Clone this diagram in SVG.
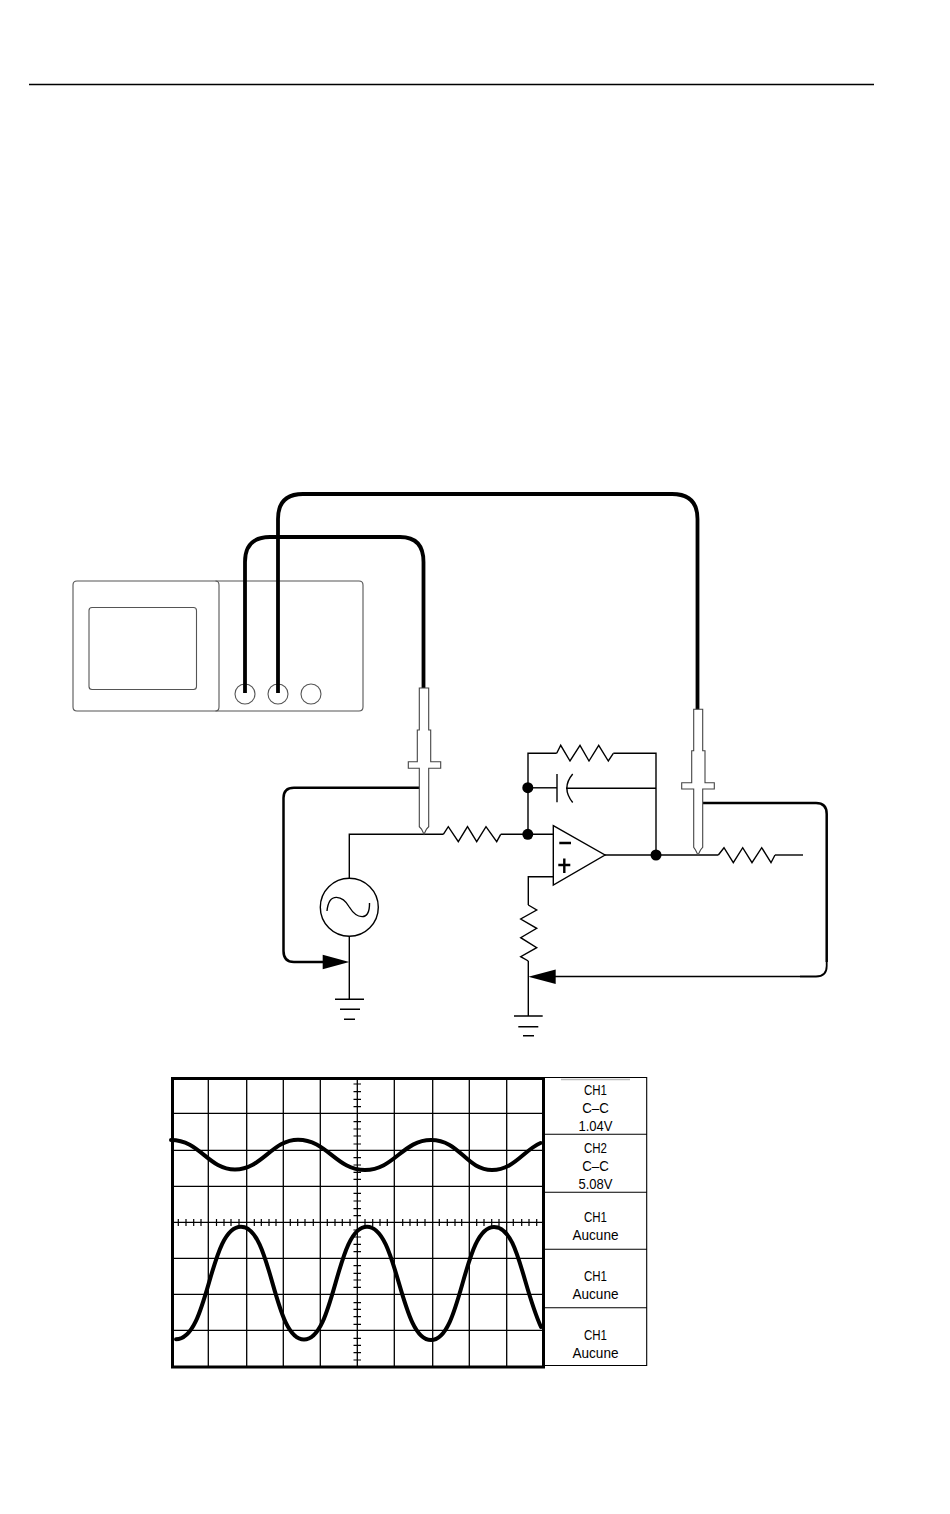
<svg xmlns="http://www.w3.org/2000/svg" width="950" height="1514" viewBox="0 0 950 1514">
<style>
.w{fill:none;stroke:#000;stroke-width:1.4}
.cable{fill:none;stroke:#000;stroke-width:3.8}
.lead{fill:none;stroke:#000;stroke-width:2.5}
.o{fill:none;stroke:#555;stroke-width:1.1}
.p{fill:#fff;stroke:#444;stroke-width:1.1}
.g{fill:none;stroke:#000;stroke-width:1.3}
.trace{fill:none;stroke:#000;stroke-width:4;stroke-linecap:round}
.f{fill:#000;stroke:none}
text{font-family:"Liberation Sans",Arial,sans-serif;font-size:14px;fill:#000;text-anchor:middle}
</style>
<rect width="950" height="1514" fill="#fff"/>
<g id="top-rule"><path class="g" d="M29 84.5H874"/></g>
<g id="oscilloscope">
<path class="o" d="M77 581H359Q363 581 363 585V707Q363 711 359 711H77Q73 711 73 707V585Q73 581 77 581Z"/>
<path class="o" d="M215.500 581Q219 581 219 585V707Q219 711 215.500 711"/>
<rect class="o" x="89" y="607.500" width="107.500" height="82" rx="3"/>
<circle class="o" cx="245" cy="694" r="10"/>
<circle class="o" cx="278" cy="694" r="10"/>
<circle class="o" cx="311" cy="694" r="10"/>
</g>
<g id="connectors">
<path class="cable" d="M245 693V562Q245 537 270 537H400Q423.500 537 423.500 562V689"/>
<path class="cable" d="M278 693V519Q278 494 303 494H672Q697.500 494 697.500 519V710"/>
<path class="lead" d="M420 787.700H294Q283.500 787.700 283.500 798V951Q283.500 962 294 962H324"/>
<path class="lead" d="M703 803H816Q826.700 803 826.700 814V962"/>
<path fill="none" stroke="#000" stroke-width="1.800" d="M826.700 962V966Q826.700 976.500 816 976.500H800"/>
<path class="w" d="M800 976.500H555"/>
<path class="w" d="M349.300 878V834.300H443.300"/>
<path class="w" d="M500.700 834.300H553.300"/>
<path class="w" d="M528 834.300V753.300H556.700"/>
<path class="w" d="M528 787.800H557"/>
<path class="w" d="M566 788.300H656"/>
<path class="w" d="M613.300 753.300H656V855"/>
<path class="w" d="M605 855H718.300"/>
<path class="w" d="M775 855H803"/>
<path class="w" d="M553.300 876.700H528.300V905"/>
<path class="w" d="M528.300 961V1016"/>
<path class="w" d="M349.300 936V999.300"/>
</g>
<g id="probe-1"><path class="p" d="M419.300 688H428.700V730H430.700V761.700H440.700V768.300H428.700V826.700L426.500 829L424 834.300L421.500 829L419.300 826.700V768.300H408.300V761.700H417.300V730H419.300Z"/></g>
<g id="probe-2"><path class="p" d="M693.700 709.300H702.700V750.700H705V782.700H714.300V789H702.700V847.300L700.500 850L698 855L695.500 850L693.700 847.300V789H681.700V782.700H691.700V750.700H693.700Z"/></g>
<g id="source">
<circle class="w" cx="349.300" cy="907.300" r="29"/>
<path class="w" d="M327 911C329 891 343 896 349.300 907C356 918 370 923 369.500 903"/>
</g>
<g id="arrow-1"><polygon class="f" points="349.300,962 322.700,954.800 322.700,969.200"/></g>
<g id="arrow-2"><polygon class="f" points="528.300,976.700 555.700,969.400 555.700,984"/></g>
<g id="resistor-input"><path class="w" d="M443.300 834.300L448.300 826.700L458.300 841.700L467.500 826.700L476.700 841.700L486 826.700L496.700 841.700L500.700 834.300"/></g>
<g id="resistor-feedback"><path class="w" d="M556.700 753.300L560.700 745.300L570 761L580 745.300L589 761L598.700 745.300L608.300 761L613.300 753.300"/></g>
<g id="resistor-output"><path class="w" d="M718.300 855L724 847.700L733.300 862.700L742.700 847.700L752 862.700L761.700 847.700L771 862.700L775 855"/></g>
<g id="resistor-ground"><path class="w" d="M528.300 905L536.700 910L520.700 919L536.700 928.300L520.700 937.700L536.700 947.700L520.700 956.700L528.300 961"/></g>
<g id="capacitor">
<path class="w" d="M557 774V802.300"/>
<path class="w" d="M572.700 774Q561 788 572.700 802.500"/>
</g>
<g id="opamp">
<polygon class="w" points="553.300,825.700 605,855 553.300,885"/>
<path fill="none" stroke="#000" stroke-width="2.400" d="M559.300 843H571M558.300 865H570.300M564.300 858.500V873"/>
</g>
<g id="junctions">
<circle class="f" cx="527.800" cy="787.700" r="5.500"/>
<circle class="f" cx="527.800" cy="834.300" r="5.500"/>
<circle class="f" cx="656" cy="855" r="5.500"/>
</g>
<g id="ground-1"><path class="w" d="M335 999.300H364M340 1009.300H360M344 1019.300H355"/></g>
<g id="ground-2"><path class="w" d="M514 1016H542.700M518.300 1026.700H538.300M523 1035.700H534"/></g>
<g id="screen">
<path class="g" d="M208.300 1078V1367M246.700 1078V1367M283.300 1078V1367M320.300 1078V1367M357.300 1078V1367M394.300 1078V1367M432.700 1078V1367M469.300 1078V1367M506.700 1078V1367"/>
<path class="g" d="M172 1113.300H543M172 1150.300H543M172 1186.300H543M172 1222.300H543M172 1258.300H543M172 1294.300H543M172 1330.300H543"/>
<path fill="none" stroke="#000" stroke-width="1.200" d="M178.300 1219V1226M186 1219V1226M193.700 1219V1226M201 1219V1226M216.500 1219V1226M224 1219V1226M231 1219V1226M239 1219V1226M254.300 1219V1226M261.300 1219V1226M269 1219V1226M276 1219V1226M290.300 1219V1226M297.700 1219V1226M305 1219V1226M313.300 1219V1226M327.300 1219V1226M335 1219V1226M342.300 1219V1226M350 1219V1226M365 1219V1226M372.700 1219V1226M380 1219V1226M387.300 1219V1226M402.700 1219V1226M410 1219V1226M417.300 1219V1226M425 1219V1226M439.300 1219V1226M447.300 1219V1226M455 1219V1226M461.700 1219V1226M476.700 1219V1226M484 1219V1226M491.700 1219V1226M499 1219V1226M513.300 1219V1226M521.700 1219V1226M529 1219V1226M536.700 1219V1226"/>
<path fill="none" stroke="#000" stroke-width="1.200" d="M353.500 1084H361M353.500 1091.700H361M353.500 1099.300H361M353.500 1106.700H361M353.500 1121.700H361M353.500 1129H361M353.500 1136H361M353.500 1144H361M353.500 1157.700H361M353.500 1165H361M353.500 1172.300H361M353.500 1179.300H361M353.500 1193.300H361M353.500 1201H361M353.500 1208.700H361M353.500 1215.700H361M353.500 1230H361M353.500 1237H361M353.500 1244.300H361M353.500 1251.700H361M353.500 1265.700H361M353.500 1273.300H361M353.500 1280H361M353.500 1287.300H361M353.500 1302.700H361M353.500 1309.300H361M353.500 1316.700H361M353.500 1324.300H361M353.500 1338.300H361M353.500 1345.300H361M353.500 1352.700H361M353.500 1360H361"/>
<path class="trace" d="M171 1140C200 1140 208 1169.500 235 1169.500C262 1169.500 272 1139.700 298 1139.700C327 1139.700 336 1170 365 1170C394 1170 403 1140 431 1140C460 1140 466 1170 492 1170C514 1170 524 1150 540.500 1143"/>
<path class="trace" d="M176 1339.300C209 1339.300 209 1226.700 241 1226.700C272 1226.700 273 1339.500 304 1339.500C335 1339.500 336 1226.700 367 1226.700C398 1226.700 400 1340 431 1340C462 1340 463 1227 494 1227C518 1227 522 1285 541 1327"/>
<rect x="172.500" y="1078.500" width="371" height="288.500" fill="none" stroke="#000" stroke-width="3"/>
</g>
<g id="readout">
<path fill="none" stroke="#000" stroke-width="1.100" d="M545 1077.500H646.700V1365.500H545M545 1134.300H646.700M545 1192.300H646.700M545 1249.300H646.700M545 1307.700H646.700"/>
<path fill="none" stroke="#bbb" stroke-width="1.500" d="M561 1079.500H630"/>
<text x="595.500" y="1095" textLength="23" lengthAdjust="spacingAndGlyphs">CH1</text>
<text x="595.500" y="1113.300" textLength="26.500" lengthAdjust="spacingAndGlyphs">C–C</text>
<text x="595.500" y="1130.700" textLength="34" lengthAdjust="spacingAndGlyphs">1.04V</text>
<text x="595.500" y="1152.700" textLength="23" lengthAdjust="spacingAndGlyphs">CH2</text>
<text x="595.500" y="1171" textLength="26.500" lengthAdjust="spacingAndGlyphs">C–C</text>
<text x="595.500" y="1189.300" textLength="34" lengthAdjust="spacingAndGlyphs">5.08V</text>
<text x="595.500" y="1222" textLength="23" lengthAdjust="spacingAndGlyphs">CH1</text>
<text x="595.500" y="1240" textLength="46" lengthAdjust="spacingAndGlyphs">Aucune</text>
<text x="595.500" y="1281" textLength="23" lengthAdjust="spacingAndGlyphs">CH1</text>
<text x="595.500" y="1298.700" textLength="46" lengthAdjust="spacingAndGlyphs">Aucune</text>
<text x="595.500" y="1339.500" textLength="23" lengthAdjust="spacingAndGlyphs">CH1</text>
<text x="595.500" y="1357.700" textLength="46" lengthAdjust="spacingAndGlyphs">Aucune</text>
</g>
</svg>
